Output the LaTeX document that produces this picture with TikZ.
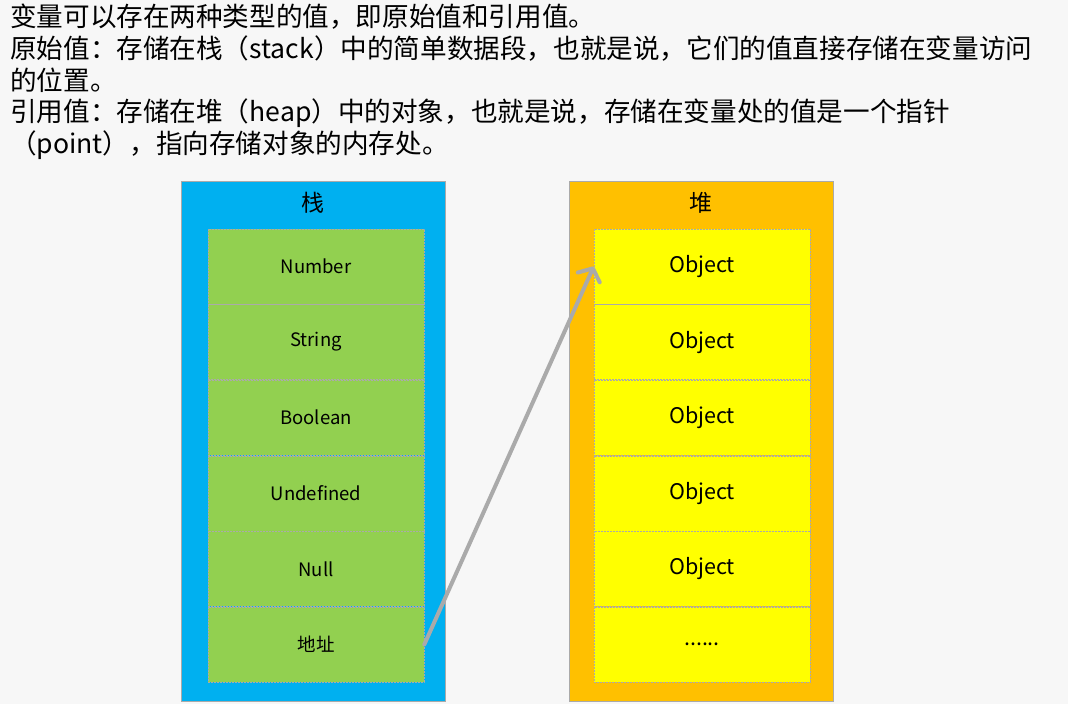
\documentclass[tikz,border=0pt]{standalone}
\usepackage{fontspec}
\setmainfont{Noto Sans CJK SC}
\usetikzlibrary{arrows.meta}
\usetikzlibrary{positioning}
\definecolor{stackblue}{RGB}{0,176,240}
\definecolor{heaporange}{RGB}{255,192,0}
\definecolor{cellgreen}{RGB}{146,208,80}
\definecolor{cellyellow}{RGB}{255,255,0}
\definecolor{pointergray}{RGB}{170,170,170}
\definecolor{slidebg}{RGB}{247,247,247}
\tikzset{
    introline/.style={anchor=west, inner sep=0pt, font=\fontsize{26.6}{30}\selectfont},
    memframe/.style={draw=pointergray, line width=0.8pt, minimum width=264pt, minimum height=520pt, inner sep=0pt},
    memtitle/.style={inner sep=0pt, font=\fontsize{23}{26}\selectfont},
    stackcell/.style={draw=pointergray, dash pattern=on 2pt off 1pt, line width=0.6pt, fill=cellgreen,
        minimum width=216pt, minimum height=75pt, inner sep=0pt, font=\fontsize{18.5}{22}\selectfont},
    heapcell/.style={stackcell, fill=cellyellow, font=\fontsize{21.5}{25}\selectfont},
    pointer/.style={draw=pointergray, line width=4pt, line cap=round,
        -{Straight Barb[length=10pt, width=24pt, round]}},
}
\begin{document}
\begin{tikzpicture}[x=1pt, y=-1pt]

    \fill[slidebg] (0,0) rectangle (1068,704);
    \useasboundingbox (0,0) rectangle (1068,704);

    \node[introline] (intro1) at (10,17) {变量可以存在两种类型的值，即原始值和引用值。};
    \node[introline] (intro2) at (10,49) {原始值：存储在栈（stack）中的简单数据段，也就是说，它们的值直接存储在变量访问};
    \node[introline] (intro3) at (10,80) {的位置。};
    \node[introline] (intro4) at (10,113) {引用值：存储在堆（heap）中的对象，也就是说，存储在变量处的值是一个指针};
    \node[introline] (intro5) at (10,145) {（point），指向存储对象的内存处。};

    \node[memframe, fill=stackblue] (stack) at (313,441) {};
    \node[memtitle] (stacktitle) at (313,203) {栈};
    \node[stackcell] (number) at (316,266.5) {Number};
    \node[stackcell, below=0pt of number] (string) {String};
    \node[stackcell, below=0pt of string] (boolean) {Boolean};
    \node[stackcell, below=0pt of boolean] (undefined) {Undefined};
    \node[stackcell, below=0pt of undefined] (null) {Null};
    \node[stackcell, below=0pt of null] (addr) {地址};

    \node[memframe, fill=heaporange] (heap) at (701,441) {};
    \node[memtitle] (heaptitle) at (701,203) {堆};
    \node[heapcell] (obj1) at (702,266.5) {Object};
    \node[heapcell, below=0pt of obj1] (obj2) {Object};
    \node[heapcell, below=0pt of obj2] (obj3) {Object};
    \node[heapcell, below=0pt of obj3] (obj4) {Object};
    \node[heapcell, below=0pt of obj4] (obj5) {Object};
    \node[heapcell, below=0pt of obj5] (more) {......};

    \draw[pointer] (addr.east) -- (obj1.west);
\end{tikzpicture}
\end{document}
